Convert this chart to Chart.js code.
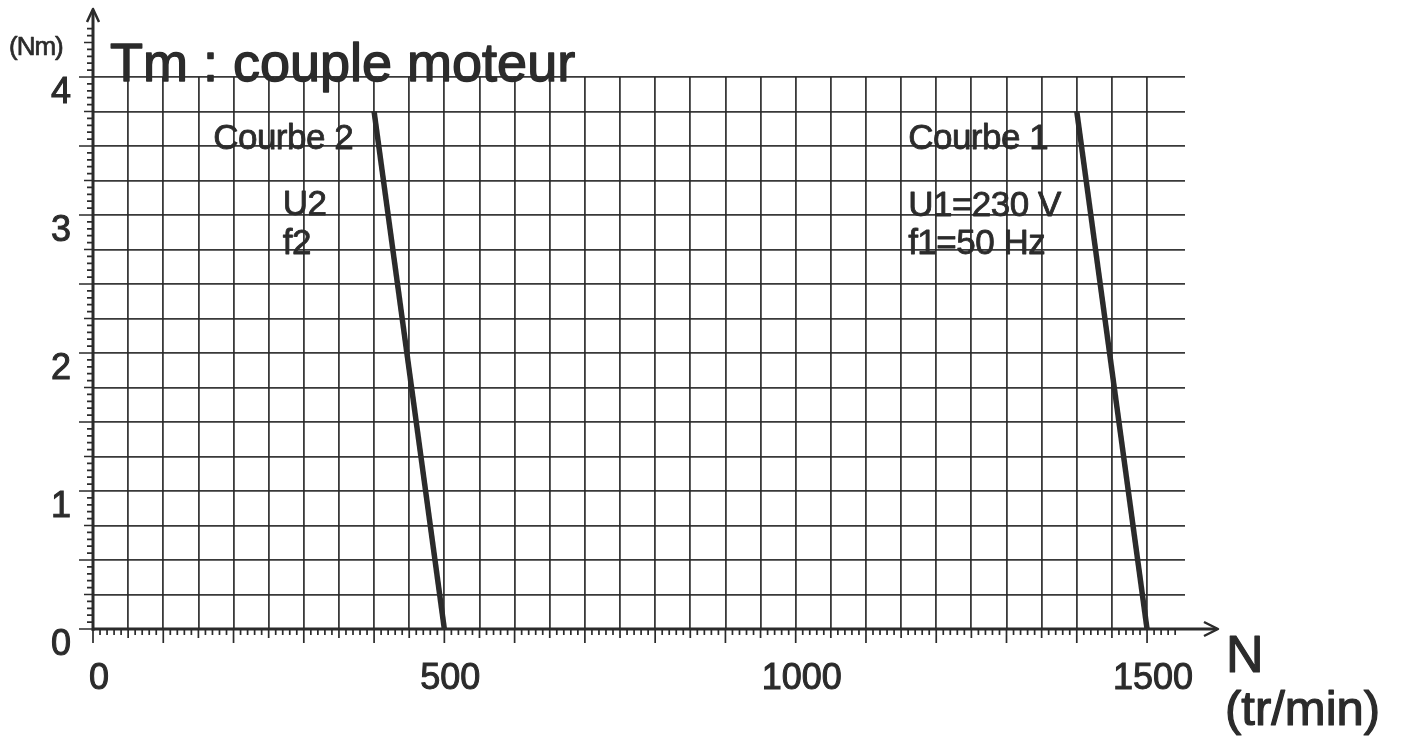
<!DOCTYPE html>
<html>
<head>
<meta charset="utf-8">
<title>Tm : couple moteur</title>
<script src="https://cdn.jsdelivr.net/npm/chart.js@4"></script>
<style>
html, body { margin: 0; padding: 0; background: #fff; }
#wrap { width: 1405px; height: 742px; }
</style>
</head>
<body>
<div id="wrap"><canvas id="chart"></canvas></div>
<script>
var courbe1_N = [1400, 1500]
var courbe1_Tm = [3.75, 0]
var courbe2_N = [400, 500]
var courbe2_Tm = [3.75, 0]
var xLabels = [0, 500, 1000, 1500]
var yLabels = [0, 1, 2, 3, 4]
var notes = [
    {text: 'Courbe 2', x: 171, y: 3.55},
    {text: 'U2', x: 270, y: 3.07},
    {text: 'f2', x: 270, y: 2.79},
    {text: 'Courbe 1', x: 1160, y: 3.55},
    {text: 'U1=230 V', x: 1160, y: 3.06},
    {text: 'f1=50 Hz', x: 1160, y: 2.79}
]

var ink = '#2b2b2b'
var gridInk = 'rgba(40,40,40,0.92)'
var family = '"Liberation Sans", Arial, sans-serif'

function pts(xs, ys) {
    return xs.map(function (v, i) { return {x: v, y: ys[i]} })
}

function heavyText(c, txt, x, y, w) {
    c.lineWidth = w
    c.strokeText(txt, x, y)
    c.fillText(txt, x, y)
}

var decor = {
    id: 'decor',
    afterDraw: function (chart) {
        var c = chart.ctx
        var xs = chart.scales.x
        var ys = chart.scales.y
        var a = chart.chartArea
        var x0 = xs.getPixelForValue(0)
        var y0 = ys.getPixelForValue(0)
        c.save()
        c.strokeStyle = ink
        c.fillStyle = ink
        c.lineCap = 'butt'
        c.lineJoin = 'round'

        // axes + arrows
        c.lineWidth = 3
        c.beginPath()
        c.moveTo(x0, y0 + 2)
        c.lineTo(x0, a.top - 67)
        c.moveTo(x0 - 1, y0)
        c.lineTo(a.right + 32, y0)
        c.stroke()
        c.lineWidth = 2.5
        c.beginPath()
        c.moveTo(x0 - 6, a.top - 55)
        c.lineTo(x0, a.top - 68)
        c.lineTo(x0 + 6, a.top - 55)
        c.moveTo(a.right + 19, y0 - 7)
        c.lineTo(a.right + 33, y0)
        c.lineTo(a.right + 19, y0 + 7)
        c.stroke()

        // graduations
        c.lineWidth = 1.7
        c.beginPath()
        for (var n = 0; n <= 1540; n += 10) {
            var px = xs.getPixelForValue(n)
            var len = n % 100 === 0 ? 14 : (n % 50 === 0 ? 9 : 6)
            c.moveTo(px, y0)
            c.lineTo(px, y0 + len)
        }
        for (var k = 0; k <= 87; k++) {
            var py = ys.getPixelForValue(k * 0.05)
            var l2 = k % 10 === 0 ? 14 : (k % 5 === 0 ? 9 : 6)
            c.moveTo(x0, py)
            c.lineTo(x0 - l2, py)
        }
        c.stroke()

        // texts
        c.textBaseline = 'alphabetic'
        c.textAlign = 'left'
        c.font = '54px ' + family
        heavyText(c, 'Tm : couple moteur', a.left + 17, a.top + 4, 1.4)
        c.font = '26px ' + family
        c.letterSpacing = '-1px'
        heavyText(c, '(Nm)', 9, a.top - 22, 0.7)
        c.letterSpacing = '0px'
        c.font = '52px ' + family
        heavyText(c, 'N', a.right + 41, y0 + 43, 1.2)
        c.font = '49px ' + family
        heavyText(c, '(tr/min)', a.right + 40, y0 + 96, 1.2)

        c.textBaseline = 'middle'
        c.font = '35px ' + family
        c.letterSpacing = '-0.5px'
        notes.forEach(function (t) {
            heavyText(c, t.text, xs.getPixelForValue(t.x), ys.getPixelForValue(t.y), 0.8)
        })
        c.restore()
    }
}

var ctx = document.getElementById('chart').getContext('2d')
var chart = new Chart(ctx, {
    type: 'line',
    data: {
        datasets: [
            {
                label: 'Courbe 1',
                data: pts(courbe1_N, courbe1_Tm),
                borderColor: ink,
                borderWidth: 5.5,
                pointRadius: 0,
                fill: false
            },
            {
                label: 'Courbe 2',
                data: pts(courbe2_N, courbe2_Tm),
                borderColor: ink,
                borderWidth: 5.5,
                pointRadius: 0,
                fill: false
            }
        ]
    },
    options: {
        responsive: true,
        maintainAspectRatio: false,
        animation: false,
        layout: { padding: { top: 77, right: 220, left: 0, bottom: 0 } },
        plugins: {
            legend: { display: false },
            tooltip: { enabled: false }
        },
        scales: {
            x: {
                type: 'linear',
                min: 0,
                max: 1554,
                border: { display: false },
                grid: {
                    drawTicks: false,
                    lineWidth: 1.8,
                    color: function (c) {
                        return c.tick && c.tick.value > 1500 ? 'rgba(0,0,0,0)' : gridInk
                    }
                },
                ticks: {
                    stepSize: 50,
                    includeBounds: false,
                    autoSkip: false,
                    maxRotation: 0,
                    padding: 28,
                    labelOffset: 6,
                    color: ink,
                    textStrokeColor: ink,
                    textStrokeWidth: 1,
                    font: { size: 36, family: family },
                    callback: function (v) { return xLabels.indexOf(v) >= 0 ? String(v) : '' }
                },
                afterFit: function (s) { s.height = 113 }
            },
            y: {
                min: 0,
                max: 4,
                border: { display: false },
                grid: {
                    drawTicks: false,
                    lineWidth: 1.8,
                    color: gridInk
                },
                ticks: {
                    stepSize: 0.25,
                    autoSkip: false,
                    padding: 22,
                    labelOffset: 16,
                    color: ink,
                    textStrokeColor: ink,
                    textStrokeWidth: 1,
                    font: { size: 36, family: family },
                    callback: function (v) { return yLabels.indexOf(v) >= 0 ? String(v) : '' }
                },
                afterFit: function (s) { s.width = 93 }
            }
        }
    },
    plugins: [decor]
})
</script>
</body>
</html>
